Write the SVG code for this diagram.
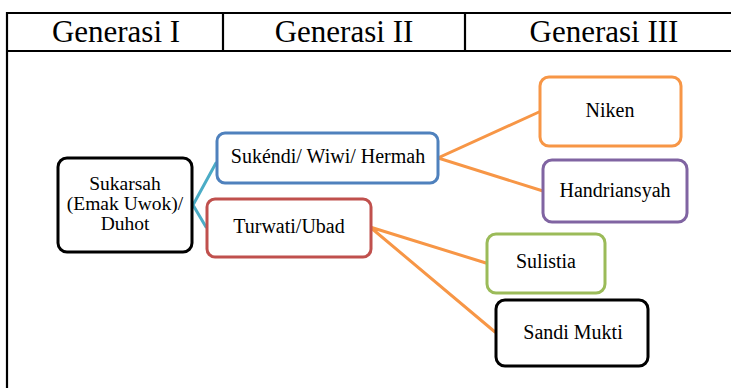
<svg xmlns="http://www.w3.org/2000/svg" width="731" height="388" viewBox="0 0 731 388">
<style>
.grid{stroke:#000;stroke-width:2.2;fill:none}
.hdr{font-family:'Liberation Serif','Times New Roman',serif;font-size:31px;fill:#000;text-anchor:middle}
.lbl{font-family:'Liberation Serif','Times New Roman',serif;font-size:20px;fill:#000;text-anchor:middle}
.box{fill:#fff;stroke-width:3}
.conn{fill:none;stroke-width:3;stroke-linecap:round}
</style>
<rect x="0" y="0" width="731" height="388" fill="#fff"/>
<g id="table">
<line class="grid" x1="7" y1="13" x2="731" y2="13"/>
<line class="grid" x1="7" y1="51" x2="731" y2="51"/>
<line class="grid" x1="7" y1="12" x2="7" y2="388"/>
<line class="grid" x1="223" y1="13" x2="223" y2="51"/>
<line class="grid" x1="465" y1="13" x2="465" y2="51"/>
<text class="hdr" x="116" y="42">Generasi I</text>
<text class="hdr" x="344" y="42">Generasi II</text>
<text class="hdr" x="604" y="42">Generasi III</text>
</g>
<g id="connectors">
<path class="conn" stroke="#4BACC6" d="M216,163 L193,205 L206,227"/>
<path class="conn" stroke="#F79646" d="M539,112 L438,158 L543,191"/>
<path class="conn" stroke="#F79646" d="M486,263 L370,227 L495,332"/>
</g>
<g id="sukarsah">
<rect class="box" x="58" y="158" width="134" height="94" rx="9" stroke="#000" stroke-width="3.5"/>
<text class="lbl" x="125" y="190" style="font-size:19.5px">Sukarsah</text>
<text class="lbl" x="125" y="210" style="font-size:19.5px">(Emak Uwok)/</text>
<text class="lbl" x="125" y="230" style="font-size:19.5px">Duhot</text>
</g>
<g id="sukendi">
<rect class="box" x="217" y="133" width="221" height="50" rx="8" stroke="#4F81BD"/>
<text class="lbl" x="328" y="163">Sukéndi/ Wiwi/ Hermah</text>
</g>
<g id="turwati">
<rect class="box" x="207" y="199" width="164" height="58" rx="8" stroke="#C0504D"/>
<text class="lbl" x="289" y="233">Turwati/Ubad</text>
</g>
<g id="niken">
<rect class="box" x="540" y="77" width="141" height="69" rx="9" stroke="#F79646"/>
<text class="lbl" x="610" y="117">Niken</text>
</g>
<g id="handriansyah">
<rect class="box" x="543" y="160" width="144" height="62" rx="9" stroke="#8064A2"/>
<text class="lbl" x="615" y="197">Handriansyah</text>
</g>
<g id="sulistia">
<rect class="box" x="487" y="234" width="118" height="59" rx="9" stroke="#9BBB59"/>
<text class="lbl" x="546" y="268">Sulistia</text>
</g>
<g id="sandi">
<rect class="box" x="496" y="300" width="152" height="66" rx="9" stroke="#000" stroke-width="3.5"/>
<text class="lbl" x="573" y="339">Sandi Mukti</text>
</g>
</svg>
